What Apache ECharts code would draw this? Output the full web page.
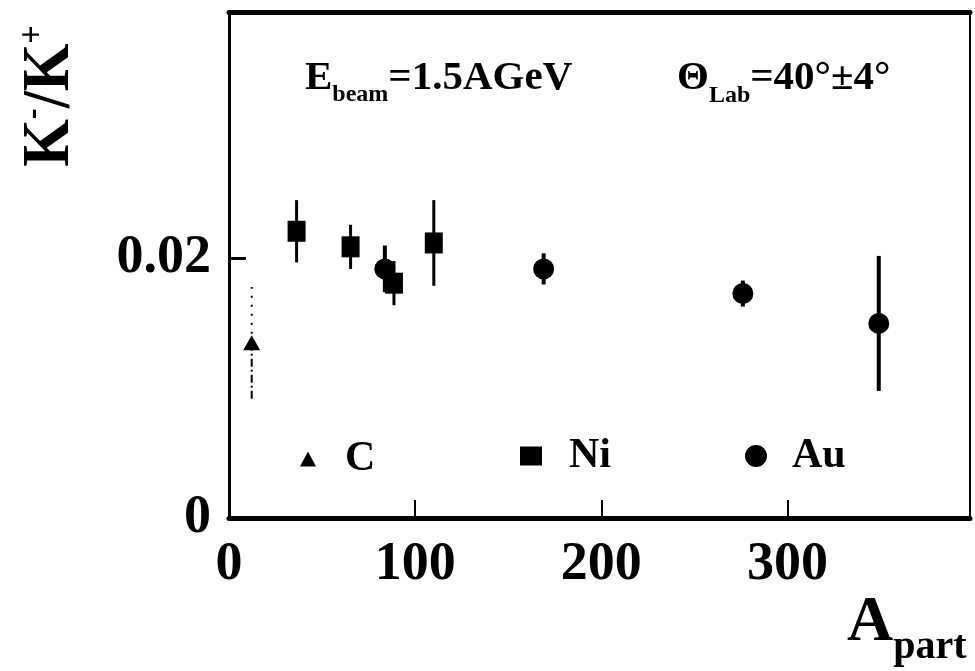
<!DOCTYPE html>
<html>
<head>
<meta charset="utf-8">
<script src="https://cdn.jsdelivr.net/npm/echarts@6/dist/echarts.min.js"></script>
<style>
  html, body { margin: 0; padding: 0; background: #fff; }
  #chart { width: 975px; height: 671px; }
</style>
</head>
<body>
<div id="chart"></div>
<script>
// K-/K+ ratio versus number of participating nucleons (E_beam = 1.5 AGeV, theta_lab = 40 +- 4 deg)
const SERIF = '"Liberation Serif", "Times New Roman", "DejaVu Serif", serif';

// Axis ranges and ticks
const xRange = [0, 398];
const xStep = 100;
const yRange = [0, 0.039];
const yStep = 0.02;

// C + C
const cApart = [12.2];
const cRatio = [0.0135];
const cErr = [0.0043];

// Ni + Ni
const niApart = [36.3, 65.3, 88.6, 110];
const niRatio = [0.0221, 0.0209, 0.0181, 0.0212];
const niErr = [0.0024, 0.0017, 0.0017, 0.0033];

// Au + Au
const auApart = [83.7, 169, 276, 349];
const auRatio = [0.0192, 0.0192, 0.0173, 0.0150];
const auErr = [0.0018, 0.0012, 0.0010, 0.0052];

function points(xs, ys) {
  return xs.map((x, i) => [x, ys[i]]);
}
function bars(xs, ys, es) {
  return xs.map((x, i) => [x, ys[i] - es[i], ys[i] + es[i], ys[i]]);
}

// vertical error bar, upper and lower half drawn separately
function errorBarRenderer(width, dashUp, dashDown) {
  return function (params, api) {
    const x = api.value(0);
    const lo = api.coord([x, api.value(1)]);
    const hi = api.coord([x, api.value(2)]);
    const mid = api.coord([x, api.value(3)]);
    return {
      type: 'group',
      children: [
        { type: 'line', shape: { x1: mid[0], y1: mid[1], x2: hi[0], y2: hi[1] },
          style: { stroke: '#000', lineWidth: width, lineDash: dashUp } },
        { type: 'line', shape: { x1: lo[0], y1: lo[1], x2: mid[0], y2: mid[1] },
          style: { stroke: '#000', lineWidth: width, lineDash: dashDown } }
      ]
    };
  };
}

function errorSeries(data, width, dashUp, dashDown) {
  return {
    type: 'custom',
    silent: true,
    z: 1,
    renderItem: errorBarRenderer(width, dashUp, dashDown),
    encode: { x: 0, y: [1, 2] },
    data: data
  };
}

const axisFont = { fontFamily: SERIF, fontWeight: 'bold', fontSize: 54, color: '#000' };
const legendText = { fontFamily: SERIF, fontWeight: 'bold', fontSize: 42, color: '#000' };
const markStyle = { color: '#000', opacity: 1 };

const chart = echarts.init(document.getElementById('chart'), null, { renderer: 'canvas' });

chart.setOption({
  backgroundColor: '#fff',
  animation: false,
  grid: { left: 229, right: 5, top: 12, bottom: 153, containLabel: false },
  xAxis: [
    {
      type: 'value', min: xRange[0], max: xRange[1], interval: xStep,
      axisLine: { onZero: false, lineStyle: { color: '#000', width: 5 } },
      axisTick: { inside: true, length: 18, lineStyle: { color: '#000', width: 2 } },
      axisLabel: Object.assign({ margin: 20, showMaxLabel: false }, axisFont),
      splitLine: { show: false }
    },
    {
      type: 'value', position: 'top', min: xRange[0], max: xRange[1],
      axisLine: { onZero: false, lineStyle: { color: '#000', width: 5 } },
      axisTick: { show: false }, axisLabel: { show: false }, splitLine: { show: false }
    }
  ],
  yAxis: [
    {
      type: 'value', min: yRange[0], max: yRange[1], interval: yStep,
      axisLine: { onZero: false, lineStyle: { color: '#000', width: 3 } },
      axisTick: { inside: true, length: 17, lineStyle: { color: '#000', width: 3 } },
      axisLabel: Object.assign({ margin: 18, showMaxLabel: false }, axisFont),
      splitLine: { show: false }
    },
    {
      type: 'value', position: 'right', min: yRange[0], max: yRange[1],
      axisLine: { onZero: false, lineStyle: { color: '#000', width: 2 } },
      axisTick: { show: false }, axisLabel: { show: false }, splitLine: { show: false }
    }
  ],
  legend: [
    { data: [{ name: 'C', icon: 'triangle' }], left: 295, top: 433, itemWidth: 16, itemHeight: 15,
      itemStyle: markStyle,
      textStyle: Object.assign({ padding: [0, 0, 0, 24] }, legendText), selectedMode: false },
    { data: [{ name: 'Ni', icon: 'rect' }], left: 515, top: 430, itemWidth: 22, itemHeight: 19,
      itemStyle: markStyle,
      textStyle: Object.assign({ padding: [0, 0, 0, 22] }, legendText), selectedMode: false },
    { data: [{ name: 'Au', icon: 'circle' }], left: 740, top: 430, itemWidth: 22, itemHeight: 22,
      itemStyle: markStyle,
      textStyle: Object.assign({ padding: [0, 0, 0, 20] }, legendText), selectedMode: false }
  ],
  series: [
    errorSeries(bars(cApart, cRatio, cErr), 2, [2, 7], [8, 3, 2, 3]),
    errorSeries(bars(niApart, niRatio, niErr), 3, null, null),
    errorSeries(bars(auApart, auRatio, auErr), 4, null, null),
    { name: 'C', type: 'scatter', symbol: 'triangle', symbolSize: [17, 15], z: 3,
      itemStyle: markStyle, data: points(cApart, cRatio) },
    { name: 'Ni', type: 'scatter', symbol: 'rect', symbolSize: [18, 21], z: 3,
      itemStyle: markStyle, data: points(niApart, niRatio) },
    { name: 'Au', type: 'scatter', symbol: 'circle', symbolSize: 21, z: 3,
      itemStyle: markStyle, data: points(auApart, auRatio) }
  ],
  graphic: [
    { // vertical axis title
      type: 'text', x: 50, y: 96, rotation: Math.PI / 2, scaleX: 0.9,
      style: {
        text: '{k|K}{s|-}{k|/K}{s|+}',
        align: 'center', verticalAlign: 'middle',
        rich: {
          k: { fontFamily: SERIF, fontWeight: 'bold', fontSize: 68, lineHeight: 68, verticalAlign: 'middle', fill: '#000' },
          s: { fontFamily: SERIF, fontWeight: 'bold', fontSize: 36, lineHeight: 36, verticalAlign: 'top', fill: '#000' }
        }
      }
    },
    { // horizontal axis title
      type: 'text', x: 847, y: 623,
      style: {
        text: '{m|A}{s|part}',
        align: 'left', verticalAlign: 'middle',
        rich: {
          m: { fontFamily: SERIF, fontWeight: 'bold', fontSize: 64, lineHeight: 90, verticalAlign: 'middle', fill: '#000' },
          s: { fontFamily: SERIF, fontWeight: 'bold', fontSize: 40, lineHeight: 40, verticalAlign: 'bottom', fill: '#000' }
        }
      }
    },
    { // beam energy
      type: 'text', x: 305, y: 78,
      style: {
        text: '{m|E}{s|beam}{m|=1.5AGeV}',
        align: 'left', verticalAlign: 'middle',
        rich: {
          m: { fontFamily: SERIF, fontWeight: 'bold', fontSize: 41, lineHeight: 57, verticalAlign: 'middle', fill: '#000' },
          s: { fontFamily: SERIF, fontWeight: 'bold', fontSize: 24, lineHeight: 24, verticalAlign: 'bottom', fill: '#000' }
        }
      }
    },
    { // polar angle window
      type: 'text', x: 677, y: 78,
      style: {
        text: '{m|\u0398}{s|Lab}{m|=40\u00b0\u00b14\u00b0}',
        align: 'left', verticalAlign: 'middle',
        rich: {
          m: { fontFamily: SERIF, fontWeight: 'bold', fontSize: 41, lineHeight: 60, verticalAlign: 'middle', fill: '#000' },
          s: { fontFamily: SERIF, fontWeight: 'bold', fontSize: 24, lineHeight: 24, verticalAlign: 'bottom', fill: '#000' }
        }
      }
    }
  ]
});
</script>
</body>
</html>
